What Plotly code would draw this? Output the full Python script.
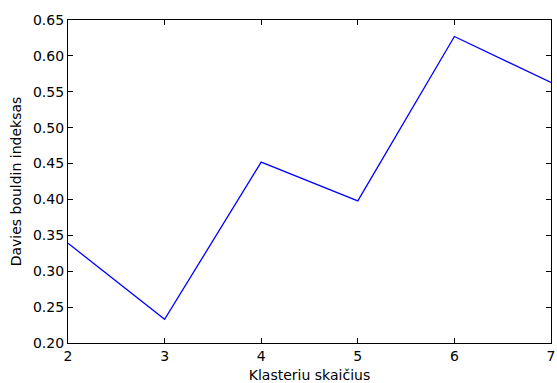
import plotly.graph_objects as go

clusters = [2, 3, 4, 5, 6, 7]
db_index = [0.339, 0.233, 0.452, 0.398, 0.627, 0.563]

x_ticks = [2, 3, 4, 5, 6, 7]
y_ticks = [0.20, 0.25, 0.30, 0.35, 0.40, 0.45, 0.50, 0.55, 0.60, 0.65]

fig = go.Figure()
fig.add_trace(go.Scatter(
    x=clusters, y=db_index, mode="lines",
    line=dict(color="#0000ff", width=1.3),
    showlegend=False,
))

axis_common = dict(
    showline=True, linecolor="black", linewidth=1.2, mirror="ticks",
    ticks="inside", ticklen=5, tickwidth=1, tickcolor="black",
    showgrid=False, zeroline=False, automargin=False,
    tickfont=dict(family="DejaVu Sans", size=14, color="black"),
)

fig.update_xaxes(
    range=[2, 7], tickvals=x_ticks, ticktext=[str(v) for v in x_ticks],
    title=dict(text="Klasteriu skaičius", font=dict(family="DejaVu Sans", size=14, color="black"), standoff=9),
    **axis_common,
)
fig.update_yaxes(
    range=[0.20, 0.65], tickvals=y_ticks, ticktext=[f"{v:.2f}" for v in y_ticks],
    title=dict(text="Davies bouldin indeksas", font=dict(family="DejaVu Sans", size=14, color="black"), standoff=8),
    **axis_common,
)

fig.update_layout(
    width=557, height=383,
    margin=dict(l=68, r=6, t=20, b=40),
    paper_bgcolor="white", plot_bgcolor="white",
    font=dict(family="DejaVu Sans", color="black"),
)

fig.write_html("out.html")
